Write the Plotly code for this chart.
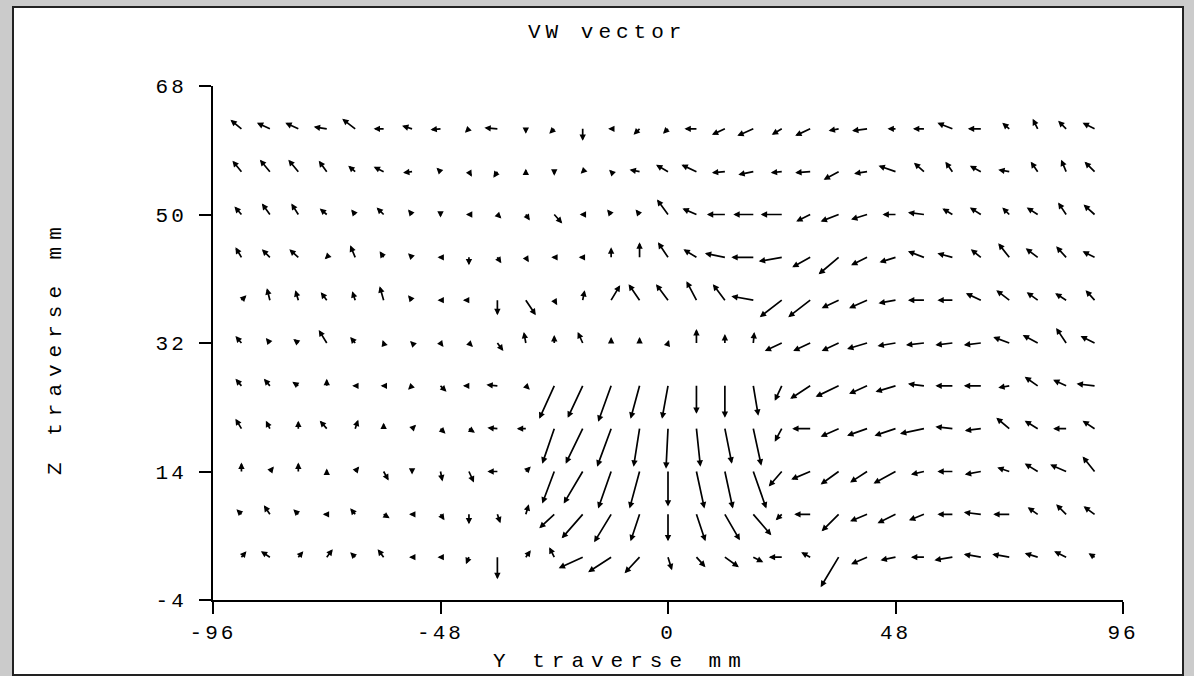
import plotly.graph_objects as go

# Grid positions (mm)
Y_POS = [-90, -84, -78, -72, -66, -60, -54, -48, -42, -36, -30, -24, -18, -12, -6, 0,
         6, 12, 18, 24, 30, 36, 42, 48, 54, 60, 66, 72, 78, 84, 90]
Z_POS = [62, 56, 50, 44, 38, 32, 26, 20, 14, 8, 2]

# V (horizontal) and W (vertical) velocity components, one list per Z row (top to bottom)
V = [
    [-11, -13, -13, -13, -13, -10, -10, -10, -4, -13, 0, -5, 0, -3, -6, -5, -12, -13, -16, -10, -15, -10, -15, -8, -11, -15, -13, -7, -5, -8, -12],
    [-9, -10, -10, -8, -7, -10, -9, -4, 3, -4, 0, 0, -2, -2, -10, -12, -15, -13, -15, -11, -15, -15, -13, -17, -10, -7, -11, -11, -7, -5, -10],
    [-7, -8, -7, -7, -4, -7, -4, 0, -3, 4, 4, 8, -3, -4, -4, -11, -14, -18, -20, -21, -14, -18, -16, -13, -16, -10, -11, -7, -11, -8, -11],
    [-6, -8, -9, -2, -5, -4, -4, -3, 0, 4, 3, -3, -4, 0, 0, -10, -13, -20, -22, -23, -18, -20, -16, -16, -16, -15, -10, -11, -12, -10, -12],
    [5, -3, -3, -6, -3, -4, -4, -3, -6, 0, 10, 3, 2, 9, -11, -12, -10, -12, -22, -22, -22, -17, -18, -17, -16, -15, -15, -13, -11, -11, -9],
    [-6, -4, -5, -8, -5, -1, -2, 3, 4, 6, -2, 0, -5, 0, 0, 1, 0, 0, 1, -17, -17, -17, -20, -18, -18, -17, -17, -16, -15, -10, -14],
    [-6, -6, -6, 0, -3, -3, -4, 6, -6, -11, 4, -15, -15, -13, -9, -6, 0, 0, 5, -7, -20, -23, -18, -20, -16, -17, -17, -11, -13, -13, -18],
    [-6, -4, 0, -7, 3, 0, 4, 5, 6, -10, -9, -12, -17, -14, -6, -2, 4, 7, 8, -7, -18, -18, -20, -21, -24, -17, -16, -13, -13, -13, -12],
    [0, 4, 0, 0, 4, 5, 0, 2, 5, -10, 5, -12, -19, -13, -10, 0, 8, 8, 13, -13, -19, -18, -17, -22, -13, -15, -16, -12, -13, -16, -12],
    [-5, -6, -5, -4, -5, 6, -3, 4, 0, 3, 3, -15, -21, -17, -9, 0, 9, 15, 18, -6, -16, -17, -17, -18, -15, -15, -17, -16, -10, -10, -11],
    [5, -9, 5, 6, -5, -6, -3, -3, -3, 0, 5, -5, -24, -23, -15, 4, 9, 14, 10, -13, -9, -18, -16, -15, -13, -18, -17, -17, -13, -12, -6],
]
W = [
    [9, 6, 6, 2, 10, 0, 3, -1, -4, 1, -5, -5, -12, 0, -6, -5, 0, -6, -7, -6, -7, -2, -2, 0, 0, 6, 0, 6, 10, 8, 6],
    [11, 12, 12, 11, 6, 5, -1, 4, -5, -6, 3, -4, -2, 2, 2, 7, 7, -1, -3, -1, -1, -8, -2, 6, 9, 10, 6, 2, 10, 12, 10],
    [8, 11, 11, 6, 5, 7, 5, -3, 0, -4, -6, -9, 0, 5, 5, 15, 6, 0, 0, 0, -7, -7, -5, 0, 2, 6, 7, 7, 7, 12, 10],
    [10, 8, 8, -2, 12, 6, 4, 0, -8, -6, -5, 0, 0, 10, 15, 15, 8, 4, 0, -4, -10, -17, -8, -5, 6, 4, 8, 14, 9, 11, 6],
    [5, 12, 10, 8, 9, 14, 5, 0, 0, -15, -15, -5, 10, 15, 16, 16, 19, 16, 4, -17, -17, -8, -8, -3, 0, 0, 7, 10, 8, 7, 10],
    [7, 5, 4, 13, 6, 3, 2, -4, -4, -8, 11, 8, 11, 6, 6, 3, 14, 9, 11, -8, -8, -8, -6, -3, -2, -2, -2, 6, 8, 15, 7],
    [7, 7, 4, 7, 0, 0, -4, -6, 0, 1, -4, -33, -32, -36, -33, -33, -28, -32, -30, -15, -13, -11, -8, -6, 2, 0, 0, -2, 9, 6, 2],
    [10, 8, 8, 8, 9, 6, 4, -5, -4, 1, 0, -35, -35, -38, -38, -40, -38, -35, -37, -13, 0, -8, -7, -7, -5, 2, -2, 11, 8, 0, 8],
    [9, 5, 9, 3, 5, -9, -3, -10, -11, 0, 5, -32, -32, -37, -37, -35, -37, -37, -37, -15, -8, -13, -11, -12, -3, 0, -3, 4, 8, 7, 15],
    [5, 9, 5, 0, 6, -4, 0, -6, -10, -9, 10, -14, -24, -28, -27, -27, -27, -26, -21, -6, 0, -17, -7, -9, -6, 0, 2, 0, 7, 10, 8],
    [6, 6, 6, 8, 5, 8, 0, 0, -7, -22, 7, 10, -11, -15, -16, -13, -10, -10, -5, 0, 5, -30, -7, -3, 0, -3, 3, 3, 4, 6, 4],
]

X_TICKS = [-96, -48, 0, 48, 96]
Z_TICKS = [-4, 14, 32, 50, 68]
TITLE = "VW vector"
X_TITLE = "Y traverse mm"
Z_TITLE = "Z traverse mm"

FONT = "Liberation Mono, DejaVu Sans Mono, monospace"

# plot-area geometry (px) used for the quiver scale
L, R, T, B = 213, 71, 86, 76
W_PX, H_PX = 1194 - L - R, 676 - T - B
KX = (X_TICKS[-1] - X_TICKS[0]) / W_PX   # mm per velocity unit (1 unit -> 1 px)
KZ = (Z_TICKS[-1] - Z_TICKS[0]) / H_PX


def spaced(t, sp):
    return f'<span style="letter-spacing:{sp}px">{t}</span>'


fig = go.Figure()
# invisible trace to establish axes
fig.add_trace(go.Scatter(x=[X_TICKS[0], X_TICKS[-1]], y=[Z_TICKS[0], Z_TICKS[-1]],
                         mode="markers", marker=dict(opacity=0), hoverinfo="skip",
                         showlegend=False))

anns = []
for j, z in enumerate(Z_POS):
    for i, y in enumerate(Y_POS):
        u, w = V[j][i], W[j][i]
        anns.append(dict(
            x=y + u * KX, y=z + w * KZ, ax=y, ay=z,
            xref="x", yref="y", axref="x", ayref="y",
            text="", font=dict(size=1), borderpad=0, borderwidth=0,
            showarrow=True, arrowhead=2, arrowsize=0.75,
            arrowwidth=1.7, arrowcolor="black", standoff=0, startstandoff=0,
        ))


def label(text, sp, px, py, angle=0):
    return dict(text=spaced(text, sp), x=(px - L) / W_PX, y=(600 - py) / H_PX,
                xref="paper", yref="paper", xanchor="center", yanchor="middle",
                showarrow=False, textangle=angle,
                font=dict(family=FONT, size=21, color="black"))


anns.append(label(TITLE, 5, 607, 33))
anns.append(label(X_TITLE, 7, 620, 661))
anns.append(label(Z_TITLE, 7, 55, 348, -90))

axis_common = dict(showline=True, linecolor="black", linewidth=2, ticks="outside",
                   ticklen=12, tickwidth=2, tickcolor="black", showgrid=False,
                   zeroline=False, tickfont=dict(family=FONT, size=21, color="black"))

fig.update_layout(
    width=1194, height=676,
    margin=dict(l=L, r=R, t=T, b=B),
    paper_bgcolor="#cbcbcb", plot_bgcolor="white",
    annotations=anns,
    xaxis=dict(range=[X_TICKS[0], X_TICKS[-1]], tickvals=X_TICKS,
               ticktext=[spaced(str(v), 3) for v in X_TICKS], **axis_common),
    yaxis=dict(range=[Z_TICKS[0], Z_TICKS[-1]], tickvals=Z_TICKS,
               ticktext=[spaced(str(v), 3) for v in Z_TICKS], ticklabelstandoff=8,
               **axis_common),
    shapes=[dict(type="rect", xref="paper", yref="paper", layer="below",
                 x0=(13 - L) / W_PX, x1=(1183 - L) / W_PX,
                 y0=(600 - 675) / H_PX, y1=(600 - 7) / H_PX,
                 fillcolor="white", line=dict(color="#222222", width=2))],
)

fig.write_html(
    "out.html",
    config={"displayModeBar": False},
    post_script="document.body.style.margin='0';document.body.style.overflow='hidden';",
)
